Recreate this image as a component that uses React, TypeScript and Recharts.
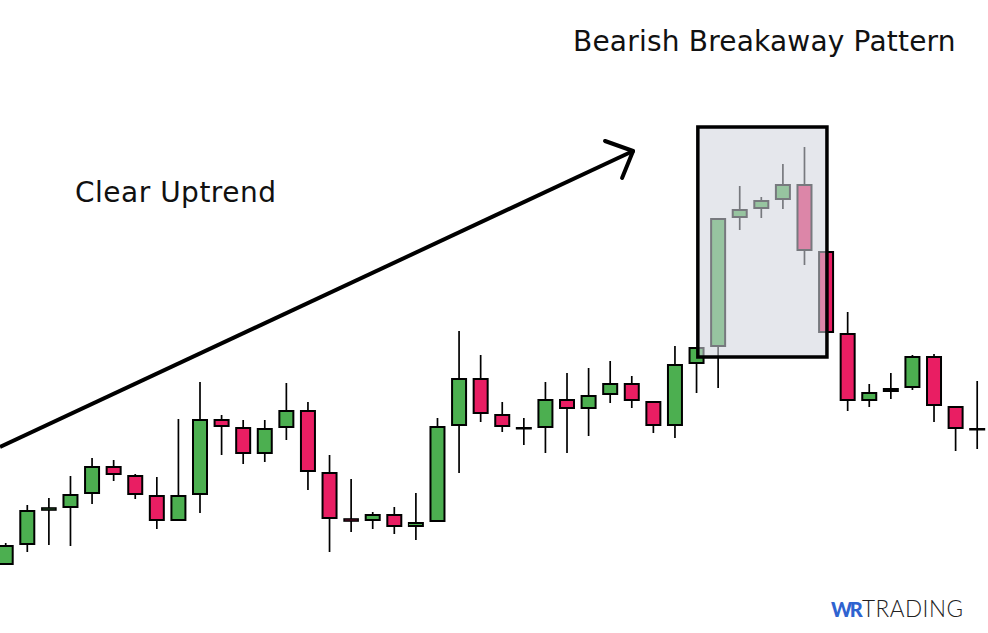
import { ComposedChart, Bar, XAxis, YAxis, ReferenceArea, ReferenceLine } from "recharts";

// price scale: higher = up on screen
const opens = [68, 88, 123, 125, 139, 167, 158, 138, 112, 138, 214, 206, 179, 205, 223, 161, 114, 112, 119, 106, 111, 207, 255, 219, 205, 205, 234, 224, 238, 250, 232, 207, 269, 286, 415, 424, 433, 449, 382, 300, 232, 241, 245, 277, 227, 204];
const closes = [88, 123, 125, 139, 167, 158, 138, 112, 138, 214, 206, 179, 205, 223, 161, 114, 112, 119, 106, 111, 207, 255, 219, 206, 205, 234, 224, 238, 250, 232, 207, 269, 286, 415, 424, 433, 449, 382, 300, 232, 241, 245, 277, 227, 204, 204];
const highs = [90, 128, 135, 157, 175, 173, 159, 156, 214, 251, 218, 213, 213, 250, 231, 178, 154, 121, 126, 140, 215, 302, 278, 231, 215, 251, 260, 265, 272, 257, 232, 287, 286, 415, 447, 436, 469, 486, 382, 321, 249, 260, 278, 279, 227, 252];
const lows = [68, 81, 88, 87, 129, 152, 134, 104, 112, 120, 178, 169, 171, 193, 143, 81, 101, 104, 99, 93, 111, 160, 211, 201, 188, 180, 180, 197, 230, 225, 200, 195, 240, 245, 403, 415, 424, 368, 300, 222, 226, 234, 243, 211, 182, 184];

const data = opens.map((o, i) => ({
  i,
  open: o,
  close: closes[i],
  high: highs[i],
  low: lows[i],
  range: [lows[i], highs[i]],
}));

const GREEN = "#4CAF50";
const RED = "#E91E63";

const Candle = (props: any) => {
  const { x, y, width, height, payload } = props;
  const { open, close, high, low } = payload;
  const top = Math.min(y, y + height);
  const h = Math.abs(height);
  const ppu = high - low === 0 ? 0 : h / (high - low);
  const cx = x + width / 2;
  const bodyTop = top + (high - Math.max(open, close)) * ppu;
  const bodyBot = top + (high - Math.min(open, close)) * ppu;
  const bh = bodyBot - bodyTop;
  const fill = close > open ? GREEN : RED;
  let body;
  if (open === close) {
    body = <rect x={cx - 8} y={bodyTop - 1} width={16} height={2.5} fill="#000" />;
  } else if (bh < 4) {
    const mid = (bodyTop + bodyBot) / 2;
    body = <rect x={cx - 7} y={mid - 1} width={14} height={2} fill={fill} stroke="#000" strokeWidth={1.6} />;
  } else {
    body = <rect x={cx - 7} y={bodyTop + 1} width={14} height={bh - 2} fill={fill} stroke="#000" strokeWidth={2} />;
  }
  return (
    <g>
      <line x1={cx} x2={cx} y1={top} y2={top + h} stroke="#000" strokeWidth={1.7} />
      {body}
    </g>
  );
};

export default function App() {
  return (
    <div style={{ position: "absolute", left: 0, top: 0, width: 988, height: 633, background: "#fff" }}>
      <ComposedChart width={988} height={633} data={data} margin={{ top: 0, right: 0, bottom: 0, left: 0 }}>
        <XAxis dataKey="i" type="number" domain={[-0.2548, 45.51]} allowDataOverflow hide />
        <YAxis type="number" domain={[0, 633]} allowDataOverflow hide />
        <ReferenceLine segment={[{ x: -0.2548, y: 186 }, { x: 29.07, y: 482 }]} stroke="#000" strokeWidth={4} ifOverflow="visible" />
        <ReferenceLine segment={[{ x: 27.77, y: 492 }, { x: 29.07, y: 482 }]} stroke="#000" strokeWidth={4} strokeLinecap="round" ifOverflow="visible" />
        <ReferenceLine segment={[{ x: 28.56, y: 455 }, { x: 29.07, y: 482 }]} stroke="#000" strokeWidth={4} strokeLinecap="round" ifOverflow="visible" />
        <Bar dataKey="range" barSize={16} shape={Candle} isAnimationActive={false} />
        <ReferenceArea
          x1={32.07}
          x2={38.05}
          y1={276}
          y2={506}
          fill="rgb(210,212,221)"
          fillOpacity={0.57}
          stroke="#000"
          strokeWidth={3.5}
          strokeOpacity={1}
          ifOverflow="visible"
          zIndex={1000}
        />
      </ComposedChart>
      <svg width={988} height={633} style={{ position: "absolute", left: 0, top: 0, pointerEvents: "none" }}>
        <text x={573} y={51} fontFamily="DejaVu Sans" fontSize={28} letterSpacing={0.2} fill="#111">
          Bearish Breakaway Pattern
        </text>
        <text x={75} y={202} fontFamily="DejaVu Sans" fontSize={28} letterSpacing={0.5} fill="#111">
          Clear Uptrend
        </text>
        <text x={831} y={617} fontFamily="Lato" fontSize={20} fill="#2f63d0" fontWeight={900} letterSpacing={-2.5}>
          WR
        </text>
        <text x={862} y={617} fontFamily="Lato" fontSize={22.5} fill="#222" fontWeight={300} letterSpacing={0.5}>
          TRADING
        </text>
      </svg>
    </div>
  );
}
